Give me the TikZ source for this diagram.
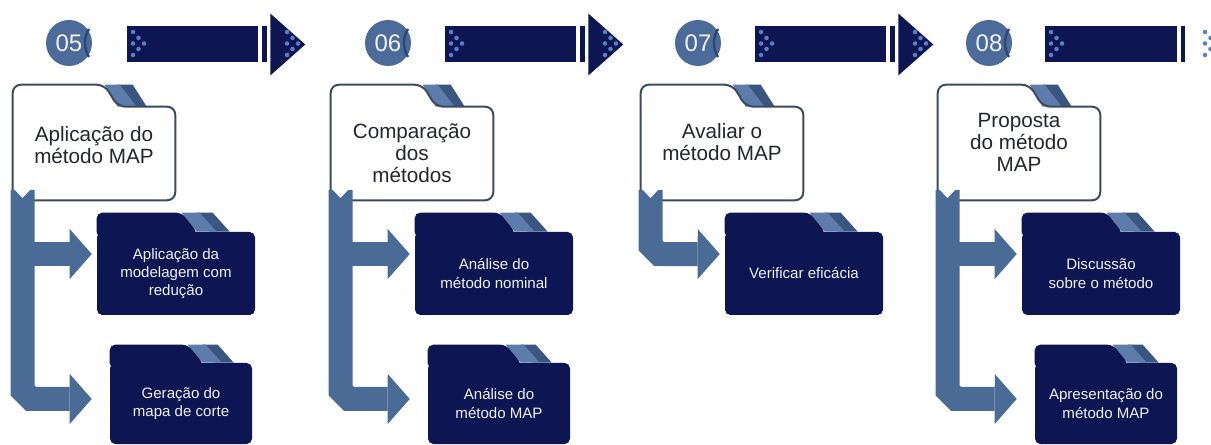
\documentclass[tikz,border=0pt]{standalone}
\usepackage{fontspec}
\setmainfont{Liberation Sans}
\usetikzlibrary{arrows.meta, positioning}

\definecolor{navy}{HTML}{0D1652}
\definecolor{steel}{HTML}{4B6B97}
\definecolor{disc}{HTML}{4D6B9A}
\definecolor{moon}{HTML}{2C4676}
\definecolor{tablight}{HTML}{5D7CAB}
\definecolor{tabdark}{HTML}{3A5580}
\definecolor{edge}{HTML}{3C4A5E}
\definecolor{dotblue}{HTML}{5B7EC6}
\definecolor{ink}{HTML}{23262E}

\begin{document}
\begin{tikzpicture}[x=0.75pt, y=-0.75pt]

    % Define styles
    \tikzstyle{numdisc} = [circle, fill=disc, minimum size=34.5pt, inner sep=0pt, text=white!92!disc, font=\fontsize{18}{18}\selectfont]
    \tikzstyle{crescent} = [draw=moon, line width=1.8pt]
    \tikzstyle{arrowbar} = [fill=navy, minimum height=27pt, inner sep=0pt]
    \tikzstyle{dotfill} = [fill=dotblue]
    \tikzstyle{wbody} = [fill=white, rounded corners=6pt, minimum width=121.5pt, minimum height=69.75pt, inner sep=0pt]
    \tikzstyle{wline} = [draw=edge, line width=1.5pt, rounded corners=6pt]
    \tikzstyle{wtext} = [align=center, text=ink, font=\fontsize{15.5}{16.5}\selectfont]
    \tikzstyle{nbody} = [fill=navy, rounded corners=4pt, inner sep=0pt, align=center, text=white!94!navy, font=\fontsize{11.3}{13.7}\selectfont]
    \tikzstyle{band} = [draw=steel, line width=18pt, -{Triangle[length=16.5pt, width=37.5pt, line width=0pt]}]

    \useasboundingbox (0,0) rectangle (1211,445);

    % Step numbers
    \node[numdisc] (c5) at (69,43) {05};
    \node[numdisc] (c6) at (388,43) {06};
    \node[numdisc] (c7) at (698,43) {07};
    \node[numdisc] (c8) at (989,43) {08};
    \draw[crescent] (c5.center) ++(20,14) arc[start angle=148, end angle=212, radius=26.5];
    \draw[crescent] (c6.center) ++(20,14) arc[start angle=148, end angle=212, radius=26.5];
    \draw[crescent] (c7.center) ++(20,14) arc[start angle=148, end angle=212, radius=26.5];
    \draw[crescent] (c8.center) ++(20,14) arc[start angle=148, end angle=212, radius=26.5];

    % Big arrows
    \node[arrowbar, minimum width=98.25pt] (bar5) at (192.5,44.5) {};
    \node[arrowbar, minimum width=98.25pt] (bar6) at (510.5,44.5) {};
    \node[arrowbar, minimum width=98.25pt] (bar7) at (820.5,44.5) {};
    \node[arrowbar, minimum width=99pt] (bar8) at (1111,44.5) {};
    \fill[navy] ([xshift=3pt]bar5.north east) rectangle ++(5,36);
    \fill[navy] ([xshift=3pt]bar6.north east) rectangle ++(5,36);
    \fill[navy] ([xshift=3pt]bar7.north east) rectangle ++(5,36);
    \fill[navy] ([xshift=2.5pt]bar8.north east) rectangle ++(4,36);
    \fill[navy] ([xshift=9pt]bar5.east) ++(0,-31) -- ++(35,31) -- ++(-35,31) -- cycle;
    \fill[navy] ([xshift=9pt]bar6.east) ++(0,-31) -- ++(35,31) -- ++(-35,31) -- cycle;
    \fill[navy] ([xshift=9pt]bar7.east) ++(0,-31) -- ++(35,31) -- ++(-35,31) -- cycle;

    % Dots on the arrows
    \fill[dotfill] (133,32) circle[radius=1.7pt] (133,43.5) circle[radius=1.7pt] (133,55) circle[radius=1.7pt] (138.5,38) circle[radius=1.7pt] (138.5,49) circle[radius=1.7pt] (144,43.5) circle[radius=1.7pt];
    \fill[dotfill] (287,32) circle[radius=1.7pt] (287,43.5) circle[radius=1.7pt] (287,55) circle[radius=1.7pt] (292.5,38) circle[radius=1.7pt] (292.5,49) circle[radius=1.7pt] (298,43.5) circle[radius=1.7pt];
    \fill[dotfill] (451,32) circle[radius=1.7pt] (451,43.5) circle[radius=1.7pt] (451,55) circle[radius=1.7pt] (456.5,38) circle[radius=1.7pt] (456.5,49) circle[radius=1.7pt] (462,43.5) circle[radius=1.7pt];
    \fill[dotfill] (605,32) circle[radius=1.7pt] (605,43.5) circle[radius=1.7pt] (605,55) circle[radius=1.7pt] (610.5,38) circle[radius=1.7pt] (610.5,49) circle[radius=1.7pt] (616,43.5) circle[radius=1.7pt];
    \fill[dotfill] (761,32) circle[radius=1.7pt] (761,43.5) circle[radius=1.7pt] (761,55) circle[radius=1.7pt] (766.5,38) circle[radius=1.7pt] (766.5,49) circle[radius=1.7pt] (772,43.5) circle[radius=1.7pt];
    \fill[dotfill] (915,32) circle[radius=1.7pt] (915,43.5) circle[radius=1.7pt] (915,55) circle[radius=1.7pt] (920.5,38) circle[radius=1.7pt] (920.5,49) circle[radius=1.7pt] (926,43.5) circle[radius=1.7pt];
    \fill[dotfill] (1051,32) circle[radius=1.7pt] (1051,43.5) circle[radius=1.7pt] (1051,55) circle[radius=1.7pt] (1056.5,38) circle[radius=1.7pt] (1056.5,49) circle[radius=1.7pt] (1062,43.5) circle[radius=1.7pt];
    \fill[dotfill] (1205,32) circle[radius=1.7pt] (1205,43.5) circle[radius=1.7pt] (1205,55) circle[radius=1.7pt] (1210.5,38) circle[radius=1.7pt] (1210.5,49) circle[radius=1.7pt];

    % White folders
    \node[wbody] (w5) at (94,153.5) {};
    \node[wbody] (w6) at (412,153.5) {};
    \node[wbody] (w7) at (722,153.5) {};
    \node[wbody] (w8) at (1019,153.5) {};

    \fill[tabdark] (w5.north west) ++(105,-22) -- ++(15,0) -- ++(14,22) -- ++(-20,0) -- cycle;
    \fill[tablight] (w5.north west) ++(92,-22) -- ++(15,0) -- ++(17,22) -- ++(-19,0) -- cycle;
    \fill[white, rounded corners=5pt] (w5.north west) ++(0,8) -- ++(0,-30) -- ++(92,0) -- ++(13,22) -- ++(0,8) -- cycle;
    \draw[wline] (w5.north east) -- (w5.south east) -- (w5.south west) -- (w5.north west) -- ++(0,-22) -- ++(92,0) -- ++(13,22) -- cycle;

    \fill[tabdark] (w6.north west) ++(105,-22) -- ++(15,0) -- ++(14,22) -- ++(-20,0) -- cycle;
    \fill[tablight] (w6.north west) ++(92,-22) -- ++(15,0) -- ++(17,22) -- ++(-19,0) -- cycle;
    \fill[white, rounded corners=5pt] (w6.north west) ++(0,8) -- ++(0,-30) -- ++(92,0) -- ++(13,22) -- ++(0,8) -- cycle;
    \draw[wline] (w6.north east) -- (w6.south east) -- (w6.south west) -- (w6.north west) -- ++(0,-22) -- ++(92,0) -- ++(13,22) -- cycle;

    \fill[tabdark] (w7.north west) ++(105,-22) -- ++(15,0) -- ++(14,22) -- ++(-20,0) -- cycle;
    \fill[tablight] (w7.north west) ++(92,-22) -- ++(15,0) -- ++(17,22) -- ++(-19,0) -- cycle;
    \fill[white, rounded corners=5pt] (w7.north west) ++(0,8) -- ++(0,-30) -- ++(92,0) -- ++(13,22) -- ++(0,8) -- cycle;
    \draw[wline] (w7.north east) -- (w7.south east) -- (w7.south west) -- (w7.north west) -- ++(0,-22) -- ++(92,0) -- ++(13,22) -- cycle;

    \fill[tabdark] (w8.north west) ++(105,-22) -- ++(15,0) -- ++(14,22) -- ++(-20,0) -- cycle;
    \fill[tablight] (w8.north west) ++(92,-22) -- ++(15,0) -- ++(17,22) -- ++(-19,0) -- cycle;
    \fill[white, rounded corners=5pt] (w8.north west) ++(0,8) -- ++(0,-30) -- ++(92,0) -- ++(13,22) -- ++(0,8) -- cycle;
    \draw[wline] (w8.north east) -- (w8.south east) -- (w8.south west) -- (w8.north west) -- ++(0,-22) -- ++(92,0) -- ++(13,22) -- cycle;

    \node[wtext] (w5t) at ([yshift=6pt]w5.center) {Aplicação do\\método MAP};
    \node[wtext] (w6t) at ([yshift=0.5pt]w6.center) {Comparação\\dos\\métodos};
    \node[wtext] (w7t) at ([yshift=8.5pt]w7.center) {Avaliar o\\método MAP};
    \node[wtext] (w8t) at ([yshift=8.5pt]w8.center) {Proposta\\do método\\MAP};

    % Navy folders
    \node[nbody, minimum width=118.5pt, minimum height=62.25pt] (f5a) at (176,273.5) {Aplicação da\\modelagem com\\redução};
    \node[nbody, minimum width=106.5pt, minimum height=60.75pt] (f5b) at (181,403.5) {Geração do\\mapa de corte};
    \node[nbody, minimum width=118.5pt, minimum height=62.25pt] (f6a) at (494,273.5) {Análise do\\método nominal};
    \node[nbody, minimum width=106.5pt, minimum height=60.75pt] (f6b) at (499,403.5) {Análise do\\método MAP};
    \node[nbody, minimum width=118.5pt, minimum height=62.25pt] (f7a) at (804,273.5) {Verificar eficácia};
    \node[nbody, minimum width=118.5pt, minimum height=62.25pt] (f8a) at (1101,273.5) {Discussão\\sobre o método};
    \node[nbody, minimum width=106.5pt, minimum height=60.75pt] (f8b) at (1106,403.5) {Apresentação do\\método MAP};

    \fill[tabdark] (f5a.north west) ++(100,-19) -- ++(16,0) -- ++(17,19) -- ++(-20,0) -- cycle;
    \fill[tablight] (f5a.north west) ++(85,-19) -- ++(18,0) -- ++(17,19) -- ++(-20,0) -- cycle;
    \fill[navy, rounded corners=4pt] (f5a.north west) ++(0,6) -- ++(0,-25) -- ++(85,0) -- ++(15,19) -- ++(0,6) -- cycle;

    \fill[tabdark] (f5b.north west) ++(93,-18) -- ++(15,0) -- ++(16,18) -- ++(-19,0) -- cycle;
    \fill[tablight] (f5b.north west) ++(78,-18) -- ++(18,0) -- ++(16,18) -- ++(-19,0) -- cycle;
    \fill[navy, rounded corners=4pt] (f5b.north west) ++(0,6) -- ++(0,-24) -- ++(78,0) -- ++(15,18) -- ++(0,6) -- cycle;

    \fill[tabdark] (f6a.north west) ++(100,-19) -- ++(16,0) -- ++(17,19) -- ++(-20,0) -- cycle;
    \fill[tablight] (f6a.north west) ++(85,-19) -- ++(18,0) -- ++(17,19) -- ++(-20,0) -- cycle;
    \fill[navy, rounded corners=4pt] (f6a.north west) ++(0,6) -- ++(0,-25) -- ++(85,0) -- ++(15,19) -- ++(0,6) -- cycle;

    \fill[tabdark] (f6b.north west) ++(93,-18) -- ++(15,0) -- ++(16,18) -- ++(-19,0) -- cycle;
    \fill[tablight] (f6b.north west) ++(78,-18) -- ++(18,0) -- ++(16,18) -- ++(-19,0) -- cycle;
    \fill[navy, rounded corners=4pt] (f6b.north west) ++(0,6) -- ++(0,-24) -- ++(78,0) -- ++(15,18) -- ++(0,6) -- cycle;

    \fill[tabdark] (f7a.north west) ++(100,-19) -- ++(16,0) -- ++(17,19) -- ++(-20,0) -- cycle;
    \fill[tablight] (f7a.north west) ++(85,-19) -- ++(18,0) -- ++(17,19) -- ++(-20,0) -- cycle;
    \fill[navy, rounded corners=4pt] (f7a.north west) ++(0,6) -- ++(0,-25) -- ++(85,0) -- ++(15,19) -- ++(0,6) -- cycle;

    \fill[tabdark] (f8a.north west) ++(100,-19) -- ++(16,0) -- ++(17,19) -- ++(-20,0) -- cycle;
    \fill[tablight] (f8a.north west) ++(85,-19) -- ++(18,0) -- ++(17,19) -- ++(-20,0) -- cycle;
    \fill[navy, rounded corners=4pt] (f8a.north west) ++(0,6) -- ++(0,-25) -- ++(85,0) -- ++(15,19) -- ++(0,6) -- cycle;

    \fill[tabdark] (f8b.north west) ++(93,-18) -- ++(15,0) -- ++(16,18) -- ++(-19,0) -- cycle;
    \fill[tablight] (f8b.north west) ++(78,-18) -- ++(18,0) -- ++(16,18) -- ++(-19,0) -- cycle;
    \fill[navy, rounded corners=4pt] (f8b.north west) ++(0,6) -- ++(0,-24) -- ++(78,0) -- ++(15,18) -- ++(0,6) -- cycle;

    % Connector ends
    \coordinate (t5) at (22.5,190);
    \coordinate (t6) at (340.5,190);
    \coordinate (t7) at (650.5,190);
    \coordinate (t8) at (947.5,190);
    \coordinate (a5) at ([xshift=-3.75pt, yshift=14.6pt]f5a.west);
    \coordinate (b5) at ([xshift=-13.5pt, yshift=3.4pt]f5b.west);
    \coordinate (a6) at ([xshift=-3.75pt, yshift=14.6pt]f6a.west);
    \coordinate (b6) at ([xshift=-13.5pt, yshift=3.4pt]f6b.west);
    \coordinate (a7) at ([xshift=-3.75pt, yshift=14.6pt]f7a.west);
    \coordinate (a8) at ([xshift=-3.75pt, yshift=14.6pt]f8a.west);
    \coordinate (b8) at ([xshift=-13.5pt, yshift=3.4pt]f8b.west);

    % Connectors
    \draw[band] (t5 |- a5) -- (a5);
    \draw[band] (t5) -- ([yshift=6.4pt]t5 |- b5) -- ++(8.5,8.5) -- (b5);
    \draw[band] (t6 |- a6) -- (a6);
    \draw[band] (t6) -- ([yshift=6.4pt]t6 |- b6) -- ++(8.5,8.5) -- (b6);
    \draw[band] (t7) -- ([yshift=6.4pt]t7 |- a7) -- ++(8.5,8.5) -- (a7);
    \draw[band] (t8 |- a8) -- (a8);
    \draw[band] (t8) -- ([yshift=6.4pt]t8 |- b8) -- ++(8.5,8.5) -- (b8);

    % Notches
    \fill[white] (14,189) -- (22.5,198) -- (31,189) -- cycle;
    \fill[white] (332,189) -- (340.5,198) -- (349,189) -- cycle;
    \fill[white] (642,189) -- (650.5,198) -- (659,189) -- cycle;
    \fill[white] (939,189) -- (947.5,198) -- (956,189) -- cycle;

\end{tikzpicture}
\end{document}
